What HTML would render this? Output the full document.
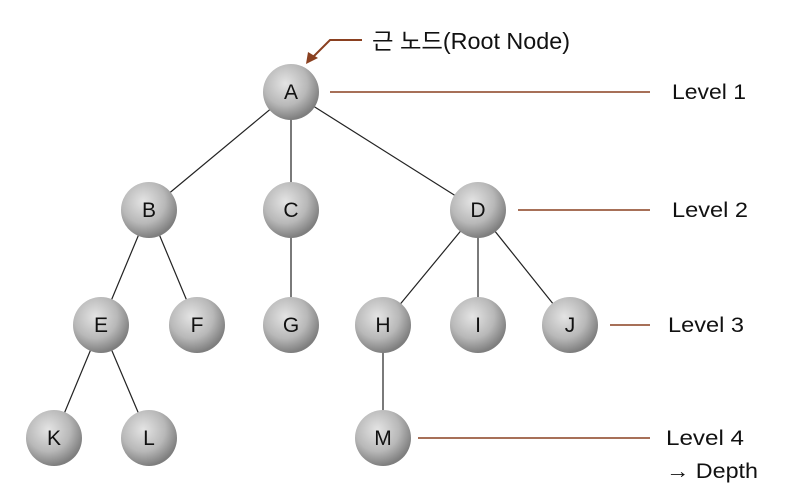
<!DOCTYPE html>
<html><head><meta charset="utf-8"><style>
html,body{margin:0;padding:0;background:#fff;}
svg{display:block;}
text{font-family:"Liberation Sans","Noto Sans CJK KR",sans-serif;}
</style></head><body>
<svg width="797" height="498" viewBox="0 0 797 498" xmlns="http://www.w3.org/2000/svg">
<defs>
<radialGradient id="g" cx="40%" cy="35%" r="65%">
<stop offset="0" stop-color="#e4e4e4"/><stop offset="0.6" stop-color="#b8b8b8"/><stop offset="1" stop-color="#7e7e7e"/>
</radialGradient>
</defs>
<g stroke="#222" stroke-width="1.2">
<line x1="291" y1="92" x2="149" y2="210"/>
<line x1="291" y1="92" x2="291" y2="210"/>
<line x1="291" y1="92" x2="478" y2="210"/>
<line x1="149" y1="210" x2="101" y2="325"/>
<line x1="149" y1="210" x2="197" y2="325"/>
<line x1="291" y1="210" x2="291" y2="325"/>
<line x1="478" y1="210" x2="383" y2="325"/>
<line x1="478" y1="210" x2="478" y2="325"/>
<line x1="478" y1="210" x2="570" y2="325"/>
<line x1="101" y1="325" x2="54" y2="438"/>
<line x1="101" y1="325" x2="149" y2="438"/>
<line x1="383" y1="325" x2="383" y2="438"/>
</g>
<g stroke="#8a4020" stroke-width="1.4">
<line x1="330" y1="92" x2="650" y2="92"/>
<line x1="518" y1="210" x2="650" y2="210"/>
<line x1="610" y1="325" x2="650" y2="325"/>
<line x1="418" y1="438" x2="650" y2="438"/>
<polyline points="362,40 330,40 311,59" fill="none" stroke-width="2"/>
</g>
<polygon points="306,64 308,52 318,58" fill="#8a4020"/>
<g fill="url(#g)">
<circle cx="291" cy="92" r="28"/>
<circle cx="149" cy="210" r="28"/><circle cx="291" cy="210" r="28"/><circle cx="478" cy="210" r="28"/>
<circle cx="101" cy="325" r="28"/><circle cx="197" cy="325" r="28"/><circle cx="291" cy="325" r="28"/>
<circle cx="383" cy="325" r="28"/><circle cx="478" cy="325" r="28"/><circle cx="570" cy="325" r="28"/>
<circle cx="54" cy="438" r="28"/><circle cx="149" cy="438" r="28"/><circle cx="383" cy="438" r="28"/>
</g>
<g font-size="21" text-anchor="middle" fill="#111">
<text x="291" y="99">A</text>
<text x="149" y="217">B</text><text x="291" y="217">C</text><text x="478" y="217">D</text>
<text x="101" y="332">E</text><text x="197" y="332">F</text><text x="291" y="332">G</text>
<text x="383" y="332">H</text><text x="478" y="332">I</text><text x="570" y="332">J</text>
<text x="54" y="445">K</text><text x="149" y="445">L</text><text x="383" y="445">M</text>
</g>
<g font-size="21" fill="#111">
<text x="372" y="49" textLength="198" lengthAdjust="spacingAndGlyphs" font-size="23">근 노드(Root Node)</text>
<text x="672" y="99" textLength="74" lengthAdjust="spacingAndGlyphs">Level 1</text>
<text x="672" y="217" textLength="76" lengthAdjust="spacingAndGlyphs">Level 2</text>
<text x="668" y="332" textLength="76" lengthAdjust="spacingAndGlyphs">Level 3</text>
<text x="666" y="445" textLength="78" lengthAdjust="spacingAndGlyphs">Level 4</text>
<text x="666" y="478" textLength="92" lengthAdjust="spacingAndGlyphs">→ Depth</text>
</g>
</svg>
</body></html>
